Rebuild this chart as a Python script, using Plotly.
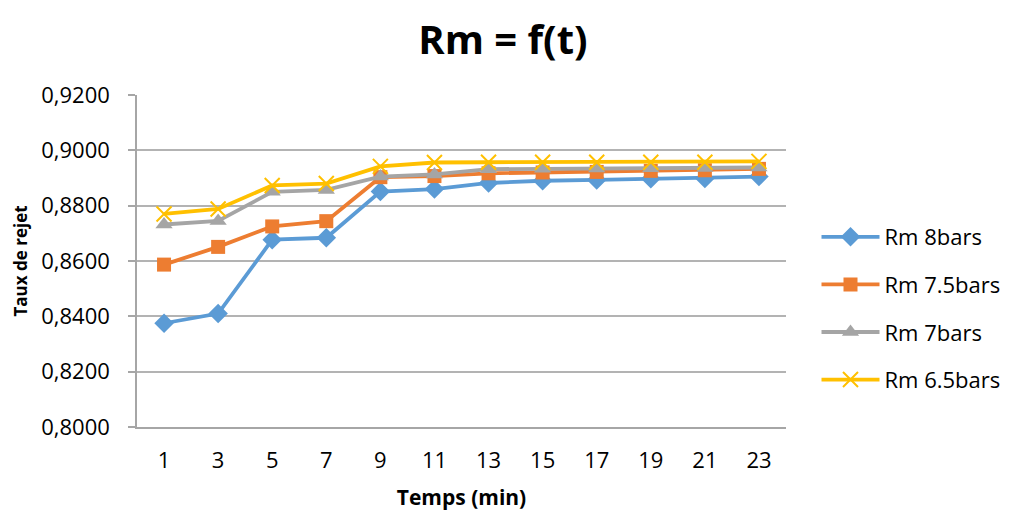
import plotly.graph_objects as go

temps = ["1", "3", "5", "7", "9", "11", "13", "15", "17", "19", "21", "23"]
rm_8 = [0.8375, 0.8410, 0.8677, 0.8684, 0.8851, 0.8860, 0.8882, 0.8890, 0.8893, 0.8897, 0.8898, 0.8905]
rm_75 = [0.8587, 0.8651, 0.8725, 0.8744, 0.8903, 0.8907, 0.8917, 0.8920, 0.8922, 0.8926, 0.8928, 0.8933]
rm_7 = [0.8732, 0.8745, 0.8850, 0.8857, 0.8905, 0.8913, 0.8932, 0.8933, 0.8934, 0.8935, 0.8936, 0.8938]
rm_65 = [0.8770, 0.8788, 0.8873, 0.8880, 0.8942, 0.8956, 0.8957, 0.8957, 0.8957, 0.8957, 0.8957, 0.8960]
y_ticks = [0.80, 0.82, 0.84, 0.86, 0.88, 0.90, 0.92]

FONT = "Open Sans"

series = [
    ("Rm 8bars", rm_8, "#5b9bd5", dict(symbol="diamond", size=15)),
    ("Rm 7.5bars", rm_75, "#ed7d31", dict(symbol="square", size=14)),
    ("Rm 7bars", rm_7, "#a5a5a5", dict(symbol="triangle-up", size=15)),
    ("Rm 6.5bars", rm_65, "#ffc000", dict(symbol="x-thin-open", size=15, line=dict(width=2, color="#ffc000"))),
]

fig = go.Figure()
for i, (name, vals, col, mk) in enumerate(series):
    fig.add_trace(go.Scatter(
        x=temps, y=vals, name=name, mode="lines+markers",
        line=dict(color=col, width=3.8),
        marker=dict(color=col, **mk),
        legendgroup=f"g{i}",
    ))

fig.update_layout(
    width=1010, height=513,
    margin=dict(l=129, r=228, t=87, b=94),
    paper_bgcolor="white", plot_bgcolor="white",
    separators=", ",
    font=dict(family=FONT, size=22, color="#000000"),
    title=dict(text="<b>Rm = f(t)</b>", x=0.490, xanchor="center", y=0.938, yanchor="middle",
               font=dict(family=FONT, size=40, color="#000000")),
    xaxis=dict(
        type="category",
        range=[-0.5, len(temps) - 0.5],
        showgrid=False,
        showline=True, linecolor="#a6a6a6", linewidth=1.5,
        ticks="", tickfont=dict(size=22), ticklabelstandoff=13,
        title=dict(text="<b>Temps (min)</b>", font=dict(size=21), standoff=17),
    ),
    yaxis=dict(
        range=[0.80, 0.92],
        tickvals=y_ticks, tickformat=".4f",
        showgrid=True, gridcolor="#b3b3b3", gridwidth=1.5,
        showline=True, linecolor="#a6a6a6", linewidth=1.5,
        ticks="outside", ticklen=7, tickcolor="#a6a6a6", tickwidth=1.5,
        tickfont=dict(size=22), ticklabelstandoff=14,
        zeroline=False,
        title=dict(text="<b>Taux de rejet</b>", font=dict(size=17), standoff=9),
    ),
    legend=dict(
        x=1.047, xanchor="left", y=0.357, yanchor="middle",
        font=dict(size=22), tracegroupgap=16, itemwidth=58,
        bgcolor="rgba(0,0,0,0)",
    ),
)

fig.write_html("out.html")
